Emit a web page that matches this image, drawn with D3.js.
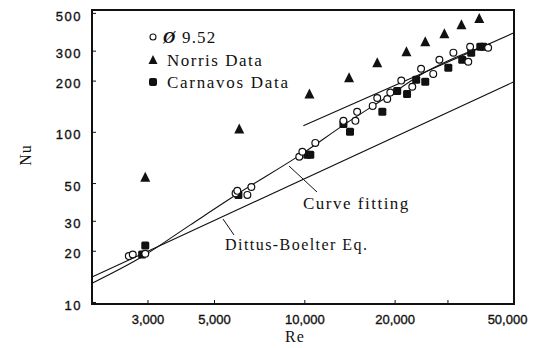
<!DOCTYPE html>
<html>
<head>
<meta charset="utf-8">
<script src="https://cdn.jsdelivr.net/npm/d3@7"></script>
<style>
  body { margin: 0; background: #fff; }
  svg { display: block; }
  .tick text { font-family: "Liberation Sans", Arial, sans-serif; font-size: 13px; fill: #111; stroke: #111; stroke-width: 0.35px; }
  .serif { font-family: "Liberation Serif", "Times New Roman", serif; fill: #111; }
</style>
</head>
<body>
<div id="chart"></div>
<script>
// Ø 9.52 tube data (open circles)
const tubeRe = [2600, 2680, 2950, 5900, 5980, 6460, 6660, 9620, 9850, 10880, 13500, 14800, 15000, 16900, 17500, 18900, 19350, 21050, 22900, 24500, 26900, 28200, 31400, 35200, 35700, 41000];
const tubeNu = [18.6, 19.0, 19.2, 43.5, 45.0, 42.6, 47.4, 71.3, 76.3, 86.1, 116, 116, 131, 142, 158, 156, 170, 200, 184, 235, 219, 265, 292, 258, 316, 312];

// Norris data (filled triangles)
const norrisRe = [2950, 6070, 10400, 14100, 17500, 21900, 25300, 29300, 33400, 38300];
const norrisNu = [54, 104, 167, 208, 255, 296, 338, 377, 426, 463];

// Carnavos data (filled squares)
const carnRe = [2880, 2950, 6030, 10230, 10470, 13500, 14200, 18200, 20400, 22000, 23600, 25300, 30200, 33600, 36000, 38600, 39500];
const carnNu = [19.0, 21.5, 42.6, 73.3, 73.3, 111, 100, 131, 174, 167, 202, 197, 238, 265, 292, 316, 316];

// lines
const dittusRe = [1960, 50000];
const dittusNu = [14.0, 197];
const fitRe = [1960, 2906, 4170, 6070, 9700, 13700, 19350, 24360, 30670, 41690];
const fitNu = [12.9, 18.65, 28.4, 43.8, 73.2, 111.4, 165, 216, 265, 329];
const corrRe = [9924, 50000];
const corrNu = [108.4, 382];

// axes
const xTicks = [3000, 5000, 10000, 20000, 30000, 50000];
const xLabels = ["3,000", "5,000", "10,000", "20,000", "", "50,000"];
const yTicks = [10, 20, 30, 50, 100, 200, 300, 500];

const width = 544, height = 348;
const mLeft = 92, mRight = 514, mTop = 10, mBottom = 304;

const svg = d3.select("#chart").append("svg")
  .attr("width", width)
  .attr("height", height);

const x = d3.scaleLog().domain([1960, 50000]).range([mLeft, mRight]);
const y = d3.scaleLog().domain([9.73, 520]).range([mBottom, mTop]);

// x axis ticks (inward)
const xAxis = svg.append("g")
  .attr("transform", `translate(0,${mBottom})`)
  .call(d3.axisBottom(x).tickValues(xTicks)
    .tickFormat((d, i) => xLabels[i])
    .tickSizeInner(-4).tickSizeOuter(0).tickPadding(11));
xAxis.select(".domain").remove();
xAxis.selectAll(".tick line").attr("stroke", "#111");
xAxis.selectAll(".tick text").filter(d => d === 50000).attr("dx", -7);

// y axis ticks (inward)
const yAxis = svg.append("g")
  .attr("transform", `translate(${mLeft},0)`)
  .call(d3.axisLeft(y).tickValues(yTicks)
    .tickFormat(d3.format("d"))
    .tickSizeInner(-4).tickSizeOuter(0).tickPadding(10));
yAxis.select(".domain").remove();
yAxis.selectAll(".tick line").attr("stroke", "#111");
yAxis.selectAll(".tick text").attr("dy", "0.55em").style("letter-spacing", "1.5px");

// frame
svg.append("rect")
  .attr("x", mLeft).attr("y", mTop)
  .attr("width", mRight - mLeft).attr("height", mBottom - mTop)
  .attr("fill", "none").attr("stroke", "#111").attr("stroke-width", 2);

const plot = svg.append("g");

const line = d3.line().x(d => x(d[0])).y(d => y(d[1]));
const smooth = d3.line().x(d => x(d[0])).y(d => y(d[1])).curve(d3.curveMonotoneX);

plot.append("path").datum(d3.zip(dittusRe, dittusNu))
  .attr("d", line).attr("fill", "none").attr("stroke", "#111").attr("stroke-width", 1.1);
plot.append("path").datum(d3.zip(corrRe, corrNu))
  .attr("d", line).attr("fill", "none").attr("stroke", "#111").attr("stroke-width", 1.1);
plot.append("path").datum(d3.zip(fitRe, fitNu))
  .attr("d", smooth).attr("fill", "none").attr("stroke", "#111").attr("stroke-width", 1.1);

// markers
plot.selectAll(".norris").data(d3.zip(norrisRe, norrisNu)).enter()
  .append("path")
  .attr("transform", d => `translate(${x(d[0])},${y(d[1])})`)
  .attr("d", "M0,-5.5L5,4.5L-5,4.5Z")
  .attr("fill", "#111");

plot.selectAll(".carn").data(d3.zip(carnRe, carnNu)).enter()
  .append("rect")
  .attr("x", d => x(d[0]) - 4).attr("y", d => y(d[1]) - 4)
  .attr("width", 8).attr("height", 8).attr("rx", 1.5)
  .attr("fill", "#111");

plot.selectAll(".tube").data(d3.zip(tubeRe, tubeNu)).enter()
  .append("circle")
  .attr("cx", d => x(d[0])).attr("cy", d => y(d[1]))
  .attr("r", 3.4)
  .attr("fill", "#fff").attr("stroke", "#111").attr("stroke-width", 1.2);

// legend
const lg = svg.append("g");
lg.append("circle").attr("cx", 153).attr("cy", 37).attr("r", 3)
  .attr("fill", "#fff").attr("stroke", "#111").attr("stroke-width", 1.1);
const t1 = lg.append("text").attr("class", "serif").attr("x", 163).attr("y", 43)
  .style("font-size", "17px").style("letter-spacing", "1.2px");
t1.append("tspan").text("Ø").style("font-style", "italic").style("font-weight", "bold");
t1.append("tspan").text(" 9.52");
lg.append("path").attr("transform", "translate(153,60)").attr("d", "M0,-5L4.5,4L-4.5,4Z").attr("fill", "#111");
lg.append("text").attr("class", "serif").attr("x", 167).attr("y", 66)
  .style("font-size", "17px").style("letter-spacing", "1.5px").text("Norris Data");
lg.append("rect").attr("x", 149).attr("y", 78).attr("width", 8).attr("height", 8).attr("rx", 2).attr("fill", "#111");
lg.append("text").attr("class", "serif").attr("x", 167).attr("y", 88)
  .style("font-size", "17px").style("letter-spacing", "1.7px").text("Carnavos Data");

// annotations
svg.append("line").attr("x1", 289).attr("y1", 166).attr("x2", 317).attr("y2", 192)
  .attr("stroke", "#111").attr("stroke-width", 1);
svg.append("text").attr("class", "serif").attr("x", 303).attr("y", 209)
  .style("font-size", "17px").style("letter-spacing", "1.5px").text("Curve fitting");
svg.append("line").attr("x1", 223).attr("y1", 219).attr("x2", 234).attr("y2", 235)
  .attr("stroke", "#111").attr("stroke-width", 1);
svg.append("text").attr("class", "serif").attr("x", 225).attr("y", 250)
  .style("font-size", "16px").style("letter-spacing", "1.45px").text("Dittus-Boelter Eq.");

// axis titles
svg.append("text").attr("class", "serif").attr("x", 295).attr("y", 342)
  .attr("text-anchor", "middle").style("font-size", "16px").style("letter-spacing", "1px").text("Re");
svg.append("text").attr("class", "serif")
  .attr("transform", "translate(31,155) rotate(-90)")
  .attr("text-anchor", "middle").style("font-size", "16px").style("letter-spacing", "1px").text("Nu");
</script>
</body>
</html>
